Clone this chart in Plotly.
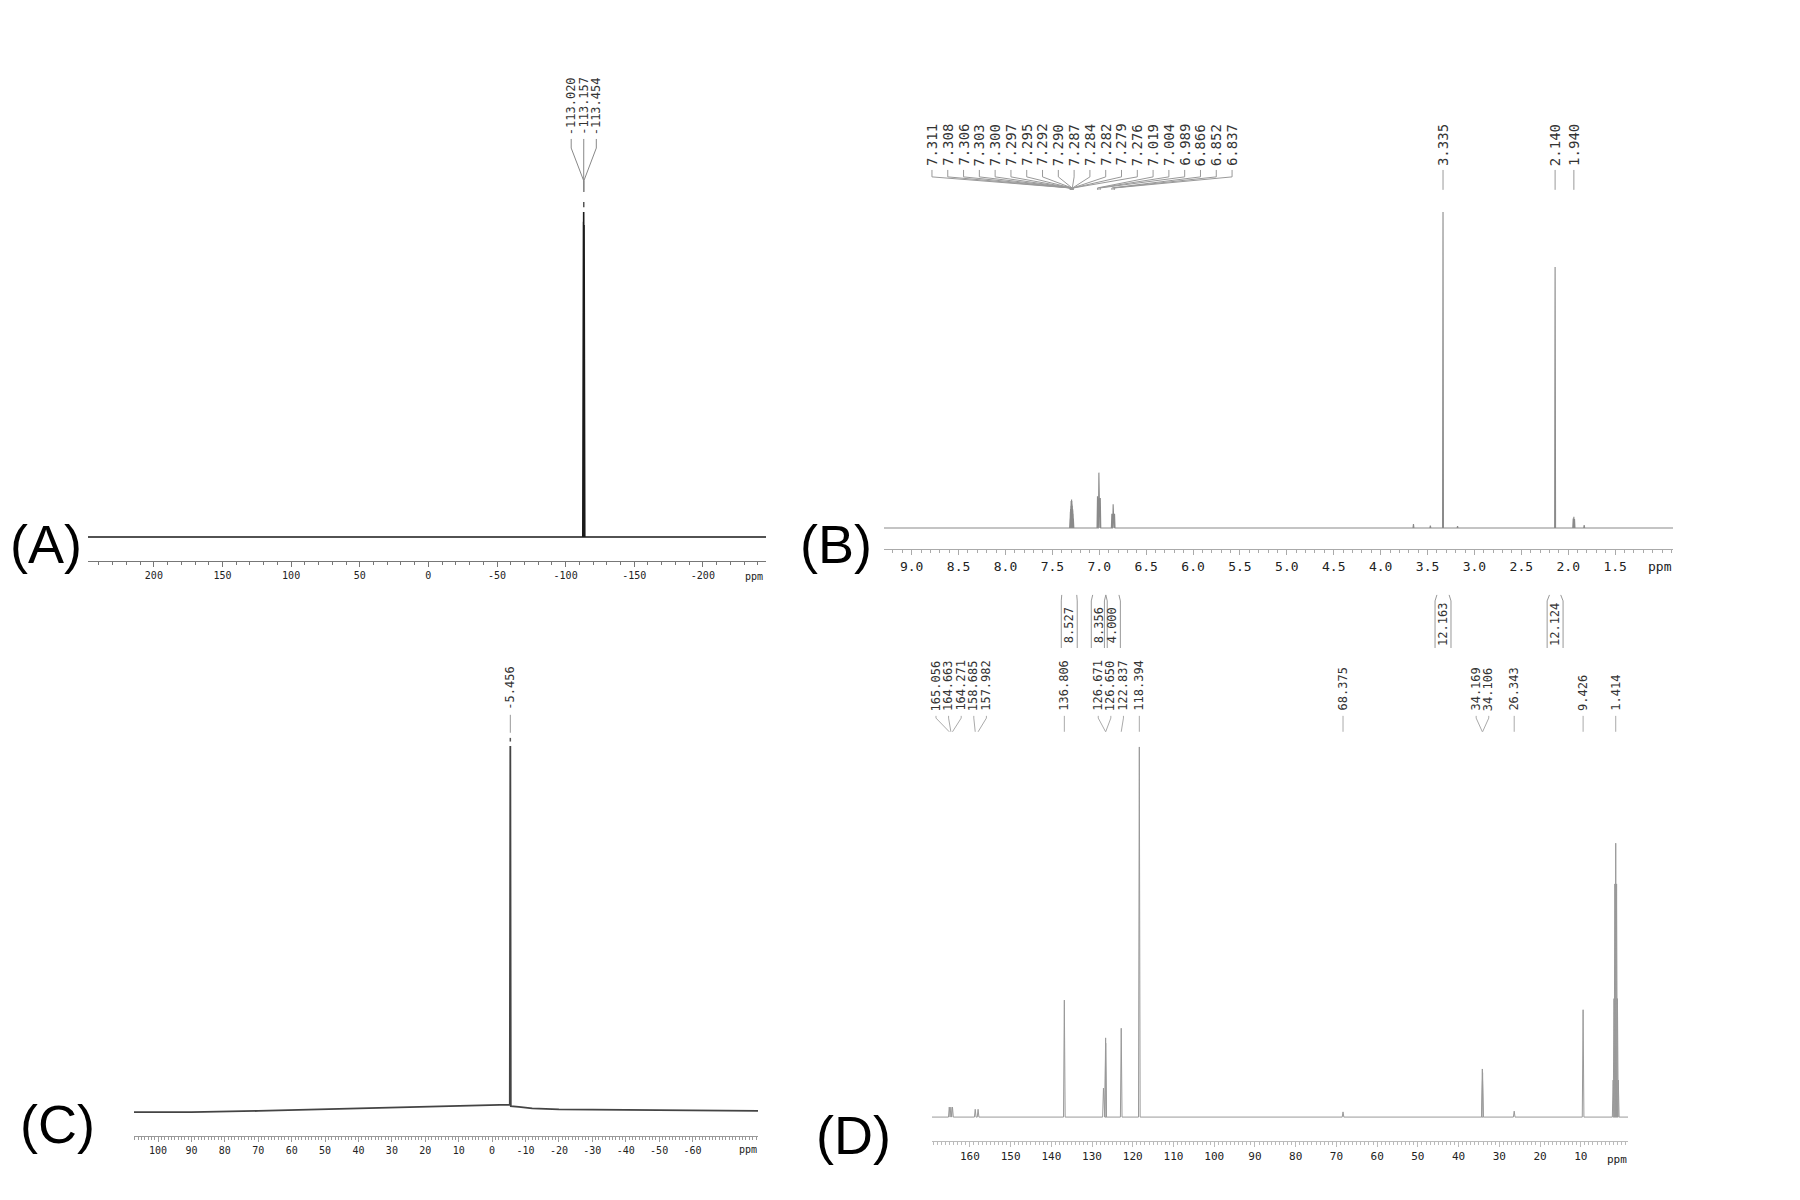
import plotly.graph_objects as go

MONO = "DejaVu Sans Mono"
SANS = "Liberation Sans"

# ---------------- DATA ----------------
# (A) 19F spectrum
A_PEAKS = [-113.020, -113.157, -113.454]
A_PEAK_INT = [0.97, 1.00, 0.96]
A_TICKS = [200, 150, 100, 50, 0, -50, -100, -150, -200]

# (B) 1H spectrum
B_PEAKS = [7.311, 7.308, 7.306, 7.303, 7.300, 7.297, 7.295, 7.292, 7.290, 7.287,
           7.284, 7.282, 7.279, 7.276, 7.019, 7.004, 6.989, 6.866, 6.852, 6.837,
           3.650, 3.470, 3.335, 3.180, 2.140, 1.947, 1.940, 1.933, 1.830]
B_PEAK_INT = [0.03, 0.05, 0.06, 0.07, 0.085, 0.08, 0.09, 0.085, 0.075, 0.07,
              0.06, 0.055, 0.045, 0.03, 0.10, 0.175, 0.095, 0.045, 0.075, 0.045,
              0.012, 0.007, 1.00, 0.006, 0.826, 0.030, 0.035, 0.028, 0.009]
B_LABELLED = [7.311, 7.308, 7.306, 7.303, 7.300, 7.297, 7.295, 7.292, 7.290, 7.287,
              7.284, 7.282, 7.279, 7.276, 7.019, 7.004, 6.989, 6.866, 6.852, 6.837,
              3.335, 2.140, 1.940]
B_INTEGRALS = [8.527, 8.356, 4.000, 12.163, 12.124]
B_INT_START = [7.40, 7.07, 6.93, 3.40, 2.20]
B_INT_END = [7.24, 6.93, 6.79, 3.27, 2.08]
B_TICKS = [9.0, 8.5, 8.0, 7.5, 7.0, 6.5, 6.0, 5.5, 5.0, 4.5, 4.0, 3.5, 3.0, 2.5, 2.0, 1.5]

# (C) spectrum with broad baseline hump
C_CURVE_PPM = [107.2, 90, 70, 50, 30, 15, 5, 0, -4, -5.3, -5.456, -5.6, -8, -12, -20, -40, -60, -79.6]
C_CURVE_INT = [0.0, 0.0, 0.003, 0.007, 0.011, 0.014, 0.018, 0.019, 0.019, 0.020, 1.00,
               0.016, 0.014, 0.010, 0.007, 0.0055, 0.004, 0.003]
C_LABELLED = [-5.456]
C_TICKS = [100, 90, 80, 70, 60, 50, 40, 30, 20, 10, 0, -10, -20, -30, -40, -50, -60]

# (D) 13C spectrum
D_PEAKS = [165.056, 164.663, 164.271, 158.685, 157.982, 136.806, 127.2, 126.671, 126.650,
           122.837, 118.394, 68.375, 34.169, 34.106, 26.343, 9.426,
           2.044, 1.834, 1.624, 1.414, 1.204, 0.994, 0.784]
D_PEAK_INT = [0.027, 0.027, 0.027, 0.021, 0.021, 0.316, 0.078, 0.214, 0.20,
              0.24, 1.00, 0.014, 0.13, 0.12, 0.016, 0.29,
              0.10, 0.32, 0.63, 0.74, 0.63, 0.32, 0.10]
D_LABELLED = [165.056, 164.663, 164.271, 158.685, 157.982, 136.806, 126.671, 126.650,
              122.837, 118.394, 68.375, 34.169, 34.106, 26.343, 9.426, 1.414]
D_TICKS = [160, 150, 140, 130, 120, 110, 100, 90, 80, 70, 60, 50, 40, 30, 20, 10]

# ---------------- layout helpers ----------------
W, H = 1800, 1200
PAGE_OFFSET = 8  # default body margin of the written page


def fx(p):
    return (p - PAGE_OFFSET) / W


def fy(p):
    return 1 - (p - PAGE_OFFSET) / H


PANELS = {
    "A": dict(xa="x", ya="y", xdom=(88, 766), xr=(248, -246), ydom=(60, 590), yr=(-0.163, 1.468),
              axis=561, tickfont=10, minor=10, ticks=A_TICKS, fmt="d", linecol="#777",
              ppm=(0.982, 576), tag=(46, 544), tagtxt="(A)", labfont=12),
    "B": dict(xa="x2", ya="y2", xdom=(884, 1673), xr=(9.295, 0.883), ydom=(90, 660), yr=(-0.418, 1.386),
              axis=549, tickfont=13, minor=0.1, ticks=B_TICKS, fmt=".1f", linecol="#aaa",
              ppm=(0.9835, 566), tag=(836, 544), tagtxt="(B)", labfont=14),
    "C": dict(xa="x3", ya="y3", xdom=(134, 758), xr=(107.2, -79.6), ydom=(620, 1175), yr=(-0.172, 1.344),
              axis=1136, tickfont=10, minor=1, ticks=C_TICKS, fmt="d", linecol="#999",
              ppm=(0.984, 1149), tag=(57, 1124), tagtxt="(C)", labfont=12),
    "D": dict(xa="x4", ya="y4", xdom=(932, 1628), xr=(169.3, -1.6), ydom=(640, 1180), yr=(-0.170, 1.289),
              axis=1141, tickfont=11, minor=1, ticks=D_TICKS, fmt="d", linecol="#bbb",
              ppm=(0.984, 1159), tag=(853, 1135), tagtxt="(D)", labfont=12),
}


def stick_curve(shifts, heights, xr, hw):
    pts = sorted(zip(shifts, heights), reverse=True)
    xs, ys = [xr[0]], [0.0]
    for s, h in pts:
        xs += [s + hw, s, s - hw]
        ys += [0.0, h, 0.0]
    xs.append(xr[1])
    ys.append(0.0)
    return xs, ys


def spread_labels(peaks, gap):
    peaks = sorted(peaks, reverse=True)
    clusters = [[p] for p in peaks]

    def place(cl):
        m = sum(cl) / len(cl)
        n = len(cl)
        return [m + ((n - 1) / 2 - i) * gap for i in range(n)]

    merged = True
    while merged:
        merged = False
        for i in range(len(clusters) - 1):
            if place(clusters[i])[-1] - place(clusters[i + 1])[0] < gap:
                clusters[i] = clusters[i] + clusters.pop(i + 1)
                merged = True
                break
    out = []
    for cl in clusters:
        out += place(cl)
    return peaks, out


fig = go.Figure()
annotations = []


def add_labels(key, labelled, gap, y_text, y_v0, y_v1, y_diag, y_stem, color, dash=None):
    P = PANELS[key]
    peaks, lpos = spread_labels(labelled, gap)
    lx, ly = [], []
    for p, l in zip(peaks, lpos):
        lx += [l, l, p, p, None]
        ly += [y_v0, y_v1, y_diag, y_stem, None]
        annotations.append(dict(x=l, y=y_text, xref=P["xa"], yref=P["ya"], text=f"{p:.3f}",
                                textangle=-90, showarrow=False, xanchor="center", yanchor="bottom",
                                font=dict(family=MONO, size=P["labfont"], color="#333")))
    fig.add_trace(go.Scatter(x=lx, y=ly, mode="lines", line=dict(color=color, width=1),
                             xaxis=P["xa"], yaxis=P["ya"], hoverinfo="skip", showlegend=False))
    if dash is not None:
        cx = sum(peaks) / len(peaks)
        fig.add_trace(go.Scatter(x=[cx, cx], y=list(dash), mode="lines", line=dict(color="#555", width=1.5),
                                 xaxis=P["xa"], yaxis=P["ya"], hoverinfo="skip", showlegend=False))


# ---- spectra ----
ax_, ay_ = stick_curve(A_PEAKS, A_PEAK_INT, PANELS["A"]["xr"], 0.5)
fig.add_trace(go.Scatter(x=ax_, y=ay_, mode="lines", line=dict(color="#1a1a1a", width=1.6),
                         xaxis="x", yaxis="y", hoverinfo="skip", showlegend=False))
bx_, by_ = stick_curve(B_PEAKS, B_PEAK_INT, PANELS["B"]["xr"], 0.005)
fig.add_trace(go.Scatter(x=bx_, y=by_, mode="lines", line=dict(color="#8a8a8a", width=1.1),
                         xaxis="x2", yaxis="y2", hoverinfo="skip", showlegend=False))
fig.add_trace(go.Scatter(x=C_CURVE_PPM, y=C_CURVE_INT, mode="lines", line=dict(color="#444", width=1.8),
                         xaxis="x3", yaxis="y3", hoverinfo="skip", showlegend=False))
dx_, dy_ = stick_curve(D_PEAKS, D_PEAK_INT, PANELS["D"]["xr"], 0.2)
fig.add_trace(go.Scatter(x=dx_, y=dy_, mode="lines", line=dict(color="#999", width=1),
                         xaxis="x4", yaxis="y4", hoverinfo="skip", showlegend=False))

# ---- peak labels + leaders ----
add_labels("A", A_PEAKS, 9.15, 1.231, 1.225, 1.197, 1.098, 1.062, "#888", dash=(1.031, 1.015))
add_labels("B", B_LABELLED, 0.1684, 1.139, 1.133, 1.111, 1.076, 1.070, "#999")
add_labels("C", C_LABELLED, 1.0, 1.093, 1.085, 1.06, 1.036, 1.036, "#999", dash=(1.022, 1.012))
add_labels("D", D_LABELLED, 3.094, 1.092, 1.084, 1.078, 1.041, 1.041, "#aaa")

# ---- integrals (B) ----
bx, by = [], []
for v, s, e in zip(B_INTEGRALS, B_INT_START, B_INT_END):
    c = (s + e) / 2
    hw = max((s - e) / 2, 0.085)
    bx += [s, c + hw, c + hw, None, e, c - hw, c - hw, None]
    by += [-0.212, -0.231, -0.380, None, -0.212, -0.231, -0.380, None]
    annotations.append(dict(x=c, y=-0.307, xref="x2", yref="y2", text=f"{v:.3f}", textangle=-90,
                            showarrow=False, xanchor="center", yanchor="middle",
                            font=dict(family=MONO, size=12, color="#333")))
fig.add_trace(go.Scatter(x=bx, y=by, mode="lines", line=dict(color="#999", width=1),
                         xaxis="x2", yaxis="y2", hoverinfo="skip", showlegend=False))

# ---- axes ----
layout = dict(width=W, height=H, margin=dict(l=0, r=0, t=0, b=0),
              paper_bgcolor="white", plot_bgcolor="rgba(0,0,0,0)", showlegend=False)
for key, P in PANELS.items():
    xname = "xaxis" + P["xa"][1:]
    yname = "yaxis" + P["ya"][1:]
    layout[xname] = dict(domain=[fx(P["xdom"][0]), fx(P["xdom"][1])], range=list(P["xr"]),
                         anchor="free", position=fy(P["axis"]), showline=True, linecolor=P["linecol"],
                         linewidth=1, ticks="outside", ticklen=5, tickcolor=P["linecol"],
                         tickmode="array", tickvals=P["ticks"],
                         ticktext=[format(t, P["fmt"]) if P["fmt"] != "d" else str(int(t)) for t in P["ticks"]],
                         tickfont=dict(family=MONO, size=P["tickfont"], color="#222"),
                         minor=dict(ticks="outside", ticklen=3, tickcolor=P["linecol"],
                                    tickmode="linear", tick0=0, dtick=P["minor"]),
                         showgrid=False, zeroline=False)
    layout[yname] = dict(domain=[fy(P["ydom"][1]), fy(P["ydom"][0])], range=list(P["yr"]),
                         anchor=P["xa"], visible=False, showgrid=False, zeroline=False)
    annotations.append(dict(x=P["ppm"][0], y=fy(P["ppm"][1]), xref=P["xa"] + " domain", yref="paper",
                            text="ppm", showarrow=False, xanchor="center", yanchor="middle",
                            font=dict(family=MONO, size=P["tickfont"], color="#222")))
    annotations.append(dict(x=fx(P["tag"][0]), y=fy(P["tag"][1]), xref="paper", yref="paper",
                            text=P["tagtxt"], showarrow=False, xanchor="center", yanchor="middle",
                            font=dict(family=SANS, size=54, color="#000")))

layout["annotations"] = annotations
fig.update_layout(**layout)
fig.write_html("out.html")
